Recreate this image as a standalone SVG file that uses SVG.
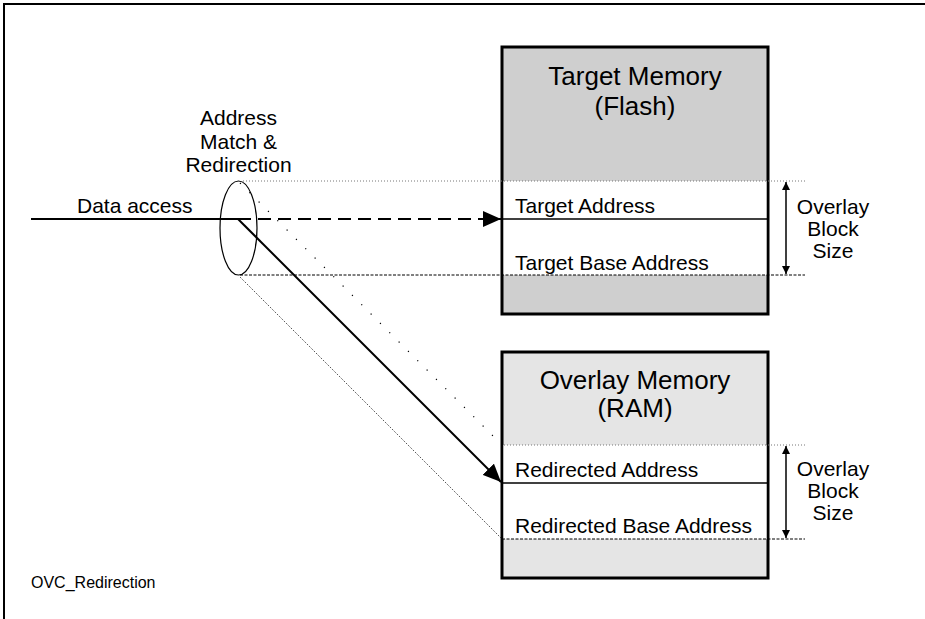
<svg xmlns="http://www.w3.org/2000/svg" width="925" height="619" viewBox="0 0 925 619">
<style>
text{font-family:"Liberation Sans",Arial,sans-serif;fill:#000}
.t21{font-size:21px}
.t26{font-size:26px}
.t16{font-size:16px}
.c{text-anchor:middle}
.box{stroke:#000;stroke-width:3}
.sep{stroke:#000;stroke-width:1.3}
.dot{stroke:#777;stroke-width:1;stroke-dasharray:1 2;fill:none}
.dash{stroke:#000;stroke-width:1;stroke-dasharray:3 1.5;fill:none}
</style>
<defs>
<marker id="big" viewBox="0 0 18 16" refX="18" refY="8" markerWidth="18" markerHeight="16" markerUnits="userSpaceOnUse" orient="auto"><path d="M0,0 L18,8 L0,16 Z" fill="#000"/></marker>
<marker id="sm" viewBox="0 0 8 14" refX="8" refY="4" markerWidth="8" markerHeight="14" markerUnits="userSpaceOnUse" orient="auto"><path d="M0,0 L8,4 L0,8 Z" fill="#000"/></marker>
</defs>
<rect width="925" height="619" fill="#fff"/>
<path d="M4,619 V4 H925" fill="none" stroke="#000" stroke-width="2"/>

<g id="target-memory">
<rect x="502" y="47" width="266" height="267" fill="#cfcfcf" class="box"/>
<rect x="503.5" y="181" width="263" height="94" fill="#fff"/>
<line x1="502" y1="219" x2="768" y2="219" class="sep"/>
<text x="635" y="85" class="t26 c">Target Memory</text>
<text x="635" y="115" class="t26 c">(Flash)</text>
<text x="515" y="213" class="t21">Target Address</text>
<text x="515" y="270" class="t21">Target Base Address</text>
</g>

<g id="overlay-memory">
<rect x="502" y="352" width="266" height="226" fill="#e5e5e5" class="box"/>
<rect x="503.5" y="445" width="263" height="94" fill="#fff"/>
<line x1="502" y1="483" x2="768" y2="483" class="sep"/>
<text x="635" y="389" class="t26 c">Overlay Memory</text>
<text x="635" y="417" class="t26 c">(RAM)</text>
<text x="515" y="477" class="t21">Redirected Address</text>
<text x="515" y="533" class="t21">Redirected Base Address</text>
</g>

<g id="address-match">
<ellipse cx="238.5" cy="228" rx="18.5" ry="47" fill="none" stroke="#000" stroke-width="1.2"/>
<text x="238.5" y="125" class="t21 c">Address</text>
<text x="238.5" y="149" class="t21 c">Match &amp;</text>
<text x="238.5" y="172" class="t21 c">Redirection</text>
</g>

<g id="size-labels">
<text x="833" y="214" class="t21 c">Overlay</text>
<text x="833" y="236" class="t21 c">Block</text>
<text x="833" y="258" class="t21 c">Size</text>
<text x="833" y="476" class="t21 c">Overlay</text>
<text x="833" y="498" class="t21 c">Block</text>
<text x="833" y="520" class="t21 c">Size</text>
</g>

<text x="31" y="588" class="t16">OVC_Redirection</text>

<g id="connectors">
<line x1="243" y1="181" x2="805" y2="181" class="dot"/>
<line x1="240" y1="275" x2="805" y2="275" class="dash"/>
<line x1="504" y1="445" x2="805" y2="445" class="dot"/>
<line x1="502" y1="539" x2="805" y2="539" class="dash"/>
<line x1="240" y1="183" x2="500" y2="443" stroke="#000" stroke-width="1.2" stroke-dasharray="1.2 12" fill="none"/>
<line x1="240" y1="277" x2="502" y2="539" stroke="#000" stroke-width="0.9" stroke-dasharray="1 1.5" fill="none"/>
<line x1="31" y1="219" x2="238" y2="219" stroke="#000" stroke-width="2"/>
<text x="77" y="213" class="t21">Data access</text>
<line x1="238" y1="219" x2="501" y2="219" stroke="#000" stroke-width="2" stroke-dasharray="13 7" marker-end="url(#big)"/>
<line x1="238" y1="219" x2="501" y2="482" stroke="#000" stroke-width="2" marker-end="url(#big)"/>
<line x1="786" y1="189" x2="786" y2="182" stroke="#000" stroke-width="1.5" marker-end="url(#sm)"/>
<line x1="786" y1="189" x2="786" y2="274" stroke="#000" stroke-width="1.5" marker-end="url(#sm)"/>
<line x1="786" y1="453" x2="786" y2="446" stroke="#000" stroke-width="1.5" marker-end="url(#sm)"/>
<line x1="786" y1="453" x2="786" y2="538" stroke="#000" stroke-width="1.5" marker-end="url(#sm)"/>
</g>
</svg>
